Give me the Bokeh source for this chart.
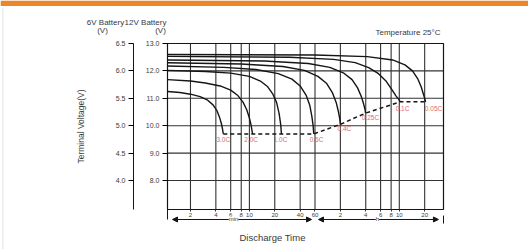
from bokeh.plotting import figure
from bokeh.models import (Range1d, LinearAxis, LogAxis, FixedTicker, Label,
                          Arrow, NormalHead, BoxAnnotation)
from bokeh.embed import file_html
from bokeh.resources import INLINE
from bokeh.core.properties import value

# ---- data: discharge time (minutes) vs terminal voltage (12V battery) ----
t_3c = [1.07, 1.5, 2.0, 2.6, 3.2, 3.7, 4.1, 4.4, 4.65, 4.8, 4.9]
v_3c = [11.25, 11.21, 11.15, 11.06, 10.93, 10.76, 10.56, 10.33, 10.08, 9.88, 9.7]
t_2c = [1.07, 2, 3, 4.5, 6, 7.3, 8.4, 9.3, 10.0, 10.5, 10.9]
v_2c = [11.68, 11.63, 11.56, 11.45, 11.3, 11.1, 10.86, 10.58, 10.28, 10.0, 9.7]
t_1c = [1.07, 3, 6, 10, 13.5, 16.5, 19, 21, 22.5, 23.5, 24]
v_1c = [12.02, 11.98, 11.92, 11.8, 11.63, 11.42, 11.15, 10.85, 10.45, 10.05, 9.7]
t_06c = [1.07, 5, 12, 22, 32, 40, 47, 52, 55, 57, 58]
v_06c = [12.18, 12.13, 12.05, 11.9, 11.7, 11.45, 11.12, 10.75, 10.35, 10.0, 9.7]
t_04c = [1.07, 8, 25, 45, 65, 82, 96, 107, 114, 118, 120]
v_04c = [12.3, 12.25, 12.16, 12.02, 11.8, 11.55, 11.22, 10.85, 10.5, 10.25, 10.05]
t_025c = [1.07, 15, 50, 90, 130, 165, 192, 213, 227, 235, 239]
v_025c = [12.4, 12.36, 12.27, 12.13, 11.93, 11.68, 11.38, 11.06, 10.78, 10.6, 10.46]
t_01c = [1.07, 30, 100, 180, 260, 340, 420, 490, 550, 595, 615]
v_01c = [12.53, 12.5, 12.42, 12.3, 12.12, 11.9, 11.62, 11.32, 11.08, 10.95, 10.87]
t_005c = [1.07, 60, 250, 500, 700, 860, 990, 1090, 1160, 1205, 1230]
v_005c = [12.6, 12.58, 12.52, 12.4, 12.22, 12.0, 11.72, 11.42, 11.15, 10.98, 10.87]

curves_t = [t_3c, t_2c, t_1c, t_06c, t_04c, t_025c, t_01c, t_005c]
curves_v = [v_3c, v_2c, v_1c, v_06c, v_04c, v_025c, v_01c, v_005c]

# final (cut-off) voltage line through the curve ends
t_final = [4.9, 10.9, 24, 58, 120, 239, 615, 1230]
v_final = [9.7, 9.7, 9.7, 9.7, 10.05, 10.46, 10.87, 10.87]

# discharge-rate labels
rate_labels = ["3.0C", "2.0C", "1.0C", "0.6C", "0.4C", "0.25C", "0.1C", "0.05C"]
label_t = [4.9, 10.5, 23.4, 62.5, 134, 273, 655, 1528]
label_v = [9.5, 9.5, 9.5, 9.5, 9.9, 10.3, 10.63, 10.63]

# axis ticks
v12_ticks = [8.0, 9.0, 10.0, 11.0, 12.0, 13.0]
v6_ticks = [4.0, 4.5, 5.0, 5.5, 6.0, 6.5]
time_ticks = [2, 4, 6, 8, 10, 20, 40, 60, 120, 240, 360, 480, 600, 1200]
time_tick_labels = ["2", "4", "6", "8", "10", "20", "40", "60",
                    "2", "4", "6", "8", "10", "20"]

# chart box (minutes / volts) and full canvas extent
BOX_L, BOX_R, BOX_B, BOX_T = 1.0677, 2006.9, 6.9416, 13.0
X_MIN, X_MAX = 0.011154, 20456.0
Y_MIN, Y_MAX = 5.4818, 14.5693
X_6V_AXIS = 0.4218

FONT = "Liberation Sans"
INK = "#151515"
GRID = "#333333"
TXT = "#3a3a3a"
RED = "#e06a6a"

p = figure(width=528, height=249, x_axis_type="log",
           x_range=Range1d(X_MIN, X_MAX), y_range=Range1d(Y_MIN, Y_MAX),
           x_axis_location=None, y_axis_location=None, title=None,
           output_backend="svg", toolbar_location=None,
           min_border_left=0, min_border_right=0,
           min_border_top=0, min_border_bottom=0)
p.background_fill_color = "white"
p.border_fill_color = "white"
p.outline_line_color = None
p.grid.visible = False

# orange header band and faint card edge
p.add_layout(BoxAnnotation(bottom=14.37, fill_color="#ef8529", fill_alpha=1.0,
                           line_color=None))
p.segment(x0=[0.0119], y0=[14.3], x1=[0.0119], y1=[Y_MIN],
          line_color="#e2e2e2", line_width=1)

# grid lines and box
n_t = len(time_ticks)
p.segment(x0=time_ticks, y0=[BOX_B] * n_t, x1=time_ticks, y1=[BOX_T] * n_t,
          line_color=GRID, line_width=1.1)
inner = v12_ticks[:-1]
p.segment(x0=[BOX_L] * len(inner), y0=inner, x1=[BOX_R] * len(inner), y1=inner,
          line_color=GRID, line_width=1.1)
p.quad(left=[BOX_L], right=[BOX_R], bottom=[BOX_B], top=[BOX_T],
       fill_color=None, line_color=INK, line_width=1.2)

# x axis (log time)
xa = LogAxis(fixed_location=BOX_B, bounds=(BOX_L, BOX_R),
             ticker=FixedTicker(ticks=time_ticks))
xa.major_label_overrides = {t: l for t, l in zip(time_ticks, time_tick_labels)}
xa.major_tick_out = 2
xa.major_tick_in = 0
xa.major_tick_line_color = GRID
xa.minor_tick_line_color = None
xa.axis_line_color = None
xa.major_label_standoff = 1
xa.major_label_text_font_size = "6px"
xa.major_label_text_font = FONT
xa.major_label_text_color = TXT
p.add_layout(xa, "below")

# 12V axis
ya = LinearAxis(fixed_location=BOX_L, bounds=(BOX_B, BOX_T),
                ticker=FixedTicker(ticks=v12_ticks))
ya.major_label_overrides = {v: f"{v:.1f}" for v in v12_ticks}
ya.major_tick_out = 5
ya.major_tick_in = 0
ya.minor_tick_line_color = None
ya.major_label_standoff = 3
ya.major_label_text_font_size = "7px"
ya.major_label_text_font = FONT
ya.major_label_text_color = TXT
ya.axis_line_color = INK
p.add_layout(ya, "left")

# 6V axis
p.extra_y_ranges = {"v6": Range1d(Y_MIN / 2, Y_MAX / 2)}
a6 = LinearAxis(y_range_name="v6", fixed_location=X_6V_AXIS,
                bounds=(BOX_B / 2, BOX_T / 2), ticker=FixedTicker(ticks=v6_ticks))
a6.major_label_overrides = {v: f"{v:.1f}" for v in v6_ticks}
a6.major_tick_out = 5
a6.major_tick_in = 0
a6.minor_tick_line_color = None
a6.major_label_standoff = 3
a6.major_label_text_font_size = "7px"
a6.major_label_text_font = FONT
a6.major_label_text_color = TXT
a6.axis_line_color = INK
a6.axis_label = "Terminal Voltage(V)"
a6.axis_label_text_font = FONT
a6.axis_label_text_font_size = "8.5px"
a6.axis_label_text_font_style = "normal"
a6.axis_label_text_color = TXT
a6.axis_label_standoff = 27
p.add_layout(a6, "left")

# discharge curves
for ts, vs in zip(curves_t, curves_v):
    p.line(ts, vs, line_color=INK, line_width=1.4)

# final voltage (dashed)
p.line(t_final, v_final, line_color=INK, line_width=1.5, line_dash="4 3")

# rate labels
p.text(label_t, label_v, text=rate_labels, text_font=value(FONT),
       text_font_size="6.5px", text_color=RED, text_align="center",
       text_baseline="middle")

# header texts
head_text = ["6V Battery", "(V)", "12V Battery", "(V)"]
head_t = [0.1963, 0.1809, 0.5855, 0.882]
head_v = [13.77, 13.47, 13.77, 13.47]
p.text(head_t, head_v, text=head_text, text_font=value(FONT),
       text_font_size="8px", text_color=TXT, text_align="center",
       text_baseline="middle")
p.text([1849], [13.40], text=["Temperature 25\u00b0C"], text_font=value(FONT),
       text_font_size="8px", text_color=TXT, text_align="right",
       text_baseline="middle")
p.text([18.8], [5.92], text=["Discharge Time"], text_font=value(FONT),
       text_font_size="9.5px", text_color=TXT, text_align="center",
       text_baseline="middle")

# min / h arrows below the time axis
Y_ARR = 6.577
p.add_layout(Arrow(x_start=1.224, y_start=Y_ARR, x_end=54.6, y_end=Y_ARR,
                   start=NormalHead(size=5, fill_color=INK, line_color=INK),
                   end=NormalHead(size=5, fill_color=INK, line_color=INK),
                   line_color=INK, line_width=1))
p.add_layout(Arrow(x_start=66.0, y_start=Y_ARR, x_end=1747, y_end=Y_ARR,
                   start=NormalHead(size=5, fill_color=INK, line_color=INK),
                   end=NormalHead(size=5, fill_color=INK, line_color=INK),
                   line_color=INK, line_width=1))
p.segment(x0=[BOX_L, BOX_R], y0=[BOX_B, 6.72], x1=[BOX_L, BOX_R], y1=[Y_ARR, 6.43],
          line_color=INK, line_width=1)
for txt, tx in [("min", 6.48), ("h", 330)]:
    p.add_layout(Label(x=tx, y=Y_ARR, text=txt, text_font=FONT,
                       text_font_size="6px", text_color=TXT,
                       text_align="center", text_baseline="middle",
                       background_fill_color="white"))

open("out.html", "w").write(file_html(p, INLINE))
